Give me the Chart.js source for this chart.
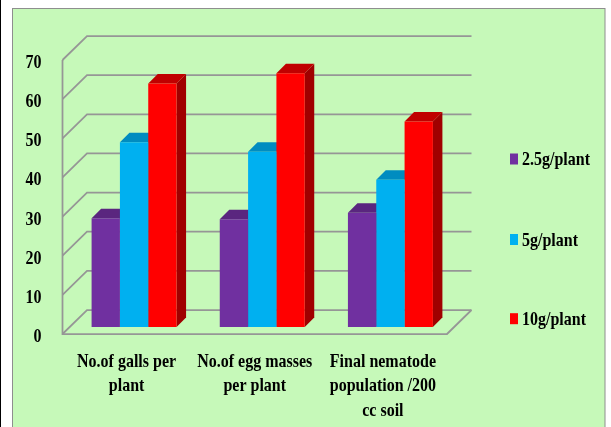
<!DOCTYPE html>
<html>
<head>
<meta charset="utf-8">
<title>Nematode counts by dose</title>
<script src="https://cdn.jsdelivr.net/npm/chart.js@4"></script>
<style>
    html, body { margin: 0; padding: 0; background: #fff; overflow: hidden; }
    canvas { display: block; }
</style>
</head>
<body>
<canvas id="chart" width="611" height="427"></canvas>
<script>
const categories = [
    ['No.of galls per', 'plant'],
    ['No.of egg masses', 'per plant'],
    ['Final nematode', 'population /200', 'cc soil']
];
const seriesNames = ['2.5g/plant', '5g/plant', '10g/plant'];
const dose25 = [27.8, 27.5, 29.2];
const dose5 = [47.2, 44.8, 37.6];
const dose10 = [62.2, 64.8, 52.5];
const frontColors = ['#7030a0', '#00b0f0', '#ff0000'];
const topColors = ['#5a267f', '#008cc0', '#c00000'];
const sideColors = ['#4a1f6b', '#0076a3', '#a00000'];

const fontFamily = '"Liberation Serif", "Times New Roman", serif';
const fontSize = 19.5;

// the box depth, and how far the bars sit inside it
const wallDx = 24.5;
const wallDy = -24;
const barDx = 7.5;
const barDy = -7;
const barDepth = 9.5;

// legend rows
const legendBoxX = 510;
const legendTextX = 522;
const legendRowY = [159, 239.5, 318.7];

const canvas = document.getElementById('chart');
const canvasCtx = canvas.getContext('2d');

// all the labels are set tall and narrow, no condensed serif is available
const plainFillText = canvasCtx.fillText.bind(canvasCtx);
canvasCtx.fillText = function (text, x, y) {
    const nudge = canvasCtx.textBaseline === 'middle' ? 3 : 0;
    canvasCtx.save();
    canvasCtx.translate(x, y + nudge);
    canvasCtx.scale(0.82, 1);
    plainFillText(text, 0, 0);
    canvasCtx.restore();
};

// page background and the green panel
const panelPlugin = {
    id: 'panel',
    beforeDraw(chart) {
        const ctx = chart.ctx;
        ctx.save();
        ctx.fillStyle = '#000';
        ctx.fillRect(0, 0, 1, chart.height);
        ctx.fillStyle = '#c6f9b9';
        ctx.fillRect(12.5, 8.5, 592.5, chart.height);
        ctx.strokeStyle = '#8e8e8e';
        ctx.lineWidth = 1;
        ctx.strokeRect(12.5, 8.5, 592.5, chart.height);
        ctx.restore();
    }
};

// fake 3D: wall and floor lines, then bar tops and sides under the library's bars
const box3dPlugin = {
    id: 'box3d',
    beforeDatasetsDraw(chart) {
        const ctx = chart.ctx;
        const { left, right } = chart.chartArea;
        const y = chart.scales.y;
        const y0 = y.getPixelForValue(0);

        ctx.save();
        ctx.strokeStyle = '#969696';
        ctx.lineWidth = 1.75;
        y.ticks.forEach((tick) => {
            const py = y.getPixelForValue(tick.value);
            ctx.beginPath();
            ctx.moveTo(left, py);
            ctx.lineTo(left + wallDx, py + wallDy);
            ctx.lineTo(right + wallDx, py + wallDy);
            ctx.stroke();
        });
        ctx.beginPath();
        ctx.moveTo(left, y.getPixelForValue(70));
        ctx.lineTo(left, y0);
        ctx.lineTo(right, y0);
        ctx.lineTo(right + wallDx, y0 + wallDy);
        ctx.stroke();

        ctx.translate(barDx, barDy);
        chart.data.datasets.forEach((ds, i) => {
            chart.getDatasetMeta(i).data.forEach((bar) => {
                const l = bar.x - bar.width / 2;
                const r = bar.x + bar.width / 2;
                ctx.fillStyle = sideColors[i];
                ctx.beginPath();
                ctx.moveTo(r, bar.y);
                ctx.lineTo(r + barDepth, bar.y - barDepth);
                ctx.lineTo(r + barDepth, y0 - barDepth);
                ctx.lineTo(r, y0);
                ctx.closePath();
                ctx.fill();
                ctx.fillStyle = topColors[i];
                ctx.beginPath();
                ctx.moveTo(l, bar.y);
                ctx.lineTo(l + barDepth, bar.y - barDepth);
                ctx.lineTo(r + barDepth, bar.y - barDepth);
                ctx.lineTo(r, bar.y);
                ctx.closePath();
                ctx.fill();
            });
        });
        // stays translated so the bar fronts land in the same plane
    },
    afterDatasetsDraw(chart) {
        chart.ctx.restore();
    }
};

// legend with a narrow swatch and wide row gaps
const sideLegendPlugin = {
    id: 'sideLegend',
    afterDraw(chart) {
        const ctx = chart.ctx;
        ctx.save();
        ctx.font = `bold ${fontSize}px ${fontFamily}`;
        ctx.textAlign = 'left';
        ctx.textBaseline = 'middle';
        chart.data.datasets.forEach((ds, i) => {
            ctx.fillStyle = ds.backgroundColor;
            ctx.fillRect(legendBoxX, legendRowY[i] - 5.5, 8, 11);
            ctx.fillStyle = '#000';
            ctx.fillText(ds.label, legendTextX, legendRowY[i] - 2);
        });
        ctx.restore();
    }
};

new Chart(canvas, {
    type: 'bar',
    data: {
        labels: categories,
        datasets: [
            { label: seriesNames[0], data: dose25, backgroundColor: frontColors[0] },
            { label: seriesNames[1], data: dose5, backgroundColor: frontColors[1] },
            { label: seriesNames[2], data: dose10, backgroundColor: frontColors[2] }
        ]
    },
    options: {
        responsive: false,
        animation: false,
        categoryPercentage: 0.663,
        barPercentage: 1,
        layout: { padding: { top: 60, right: 164, left: 0, bottom: 0 } },
        plugins: {
            tooltip: { enabled: false },
            legend: { display: false }
        },
        scales: {
            x: {
                grid: { display: false },
                border: { display: false },
                afterFit(scale) { scale.height = 93; },
                ticks: {
                    maxRotation: 0,
                    autoSkip: false,
                    padding: 4,
                    color: '#000',
                    font: { family: fontFamily, weight: 'bold', size: fontSize, lineHeight: 1.28 }
                }
            },
            y: {
                min: 0,
                max: 70,
                grid: { display: false },
                border: { display: false },
                afterFit(scale) { scale.width = 62.5; },
                ticks: {
                    stepSize: 10,
                    padding: 13,
                    color: '#000',
                    font: { family: fontFamily, weight: 'bold', size: fontSize }
                }
            }
        }
    },
    plugins: [panelPlugin, box3dPlugin, sideLegendPlugin]
});
</script>
</body>
</html>
